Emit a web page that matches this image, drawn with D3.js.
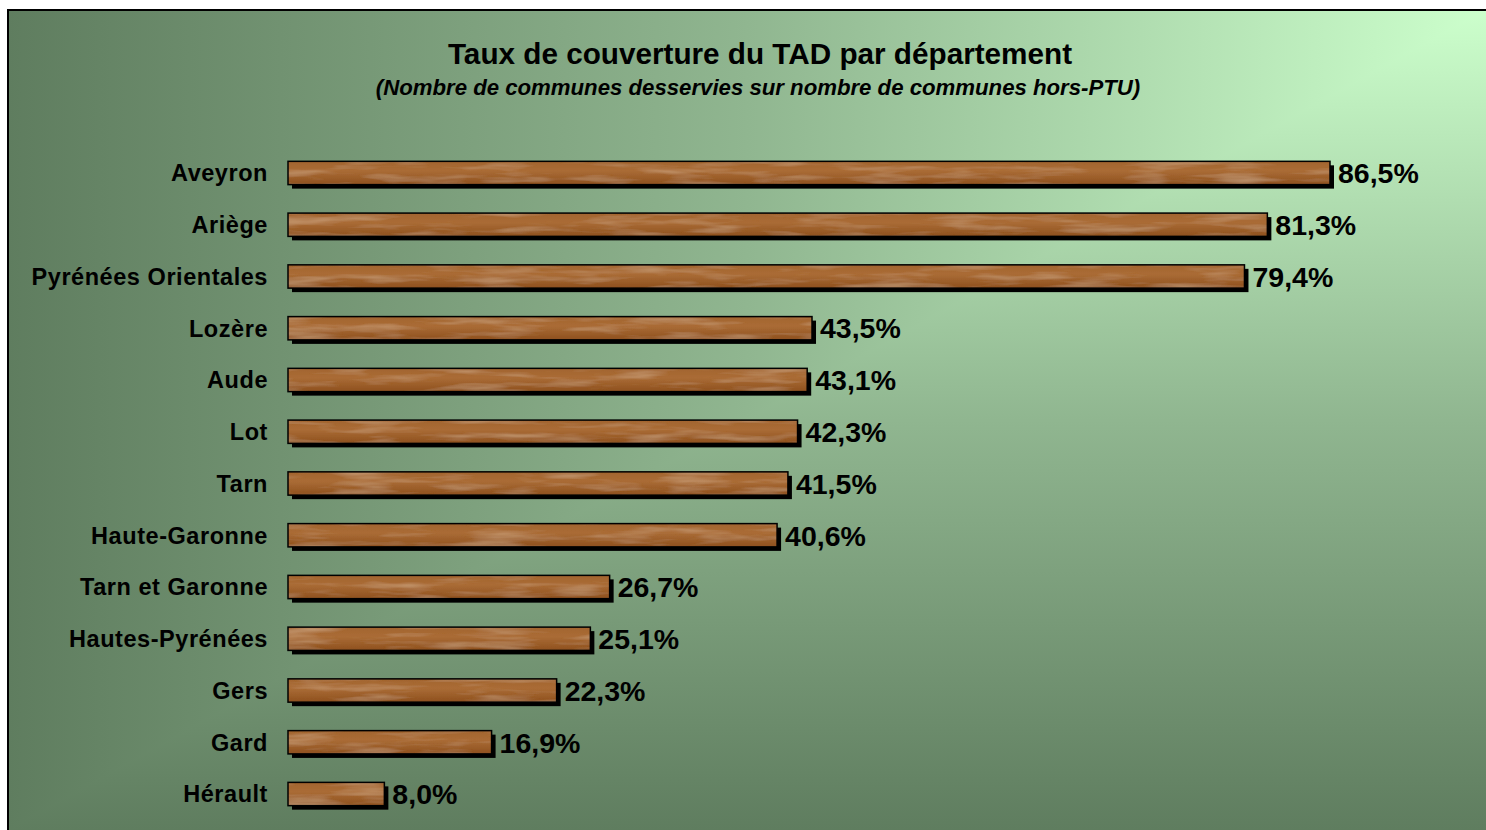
<!DOCTYPE html>
<html>
<head>
<meta charset="utf-8">
<script src="https://cdn.jsdelivr.net/npm/d3@7"></script>
<style>
  html, body { margin: 0; padding: 0; background: #fff; }
  svg { display: block; }
  text { font-family: "Liberation Sans", Arial, sans-serif; font-weight: bold; fill: #000; }
</style>
</head>
<body>
<div id="chart"></div>
<script>
// departements, from top to bottom
const departements = ["Aveyron", "Ariège", "Pyrénées Orientales", "Lozère", "Aude", "Lot", "Tarn",
  "Haute-Garonne", "Tarn et Garonne", "Hautes-Pyrénées", "Gers", "Gard", "Hérault"]
// taux de couverture en %
const taux = [86.5, 81.3, 79.4, 43.5, 43.1, 42.3, 41.5, 40.6, 26.7, 25.1, 22.3, 16.9, 8.0]

const titre = "Taux de couverture du TAD par département"
const sousTitre = "(Nombre de communes desservies sur nombre de communes hors-PTU)"

const width = 1486
const height = 830
const frame = { x: 8, y: 10 }

const svg = d3.select("#chart").append("svg")
  .attr("width", width)
  .attr("height", height)

const defs = svg.append("defs")

// "from corner" shading: vertical gradient everywhere, horizontal one above the diagonal
// both use the same stops so they meet without a seam on the diagonal
const bgStops = [[0, "#5f7d5f"], [0.5, "#90b690"], [1, "#ccffcc"]]
const gH = defs.append("linearGradient").attr("id", "bgH")
  .attr("gradientUnits", "userSpaceOnUse")
  .attr("x1", frame.x).attr("y1", 0).attr("x2", width).attr("y2", 0)
const gV = defs.append("linearGradient").attr("id", "bgV")
  .attr("gradientUnits", "userSpaceOnUse")
  .attr("x1", 0).attr("y1", height).attr("x2", 0).attr("y2", frame.y)
bgStops.forEach(s => {
  gH.append("stop").attr("offset", s[0]).attr("stop-color", s[1])
  gV.append("stop").attr("offset", s[0]).attr("stop-color", s[1])
})

// wood texture for the bars
const wood = defs.append("filter").attr("id", "wood")
  .attr("x", 0).attr("y", 0).attr("width", 1).attr("height", 1)
wood.append("feTurbulence")
  .attr("type", "fractalNoise")
  .attr("baseFrequency", "0.015 0.12")
  .attr("numOctaves", 3)
  .attr("seed", 11)
  .attr("result", "noise")
wood.append("feColorMatrix")
  .attr("in", "noise")
  .attr("type", "matrix")
  .attr("values", "0 0 0 0 0.74  0 0 0 0 0.51  0 0 0 0 0.30  0.9 0 0 0 -0.42")
  .attr("result", "streak")
wood.append("feComposite")
  .attr("in", "streak").attr("in2", "SourceGraphic")
  .attr("operator", "in").attr("result", "clipped")
const merge = wood.append("feMerge")
merge.append("feMergeNode").attr("in", "SourceGraphic")
merge.append("feMergeNode").attr("in", "clipped")

const barGrad = defs.append("linearGradient").attr("id", "barGrad")
  .attr("x1", 0).attr("y1", 0).attr("x2", 0).attr("y2", 1)
barGrad.append("stop").attr("offset", 0).attr("stop-color", "#a2642e")
barGrad.append("stop").attr("offset", 0.4).attr("stop-color", "#aa6c36")
barGrad.append("stop").attr("offset", 1).attr("stop-color", "#8e501e")

// background
svg.append("rect")
  .attr("x", frame.x).attr("y", frame.y)
  .attr("width", width - frame.x).attr("height", height - frame.y)
  .attr("fill", "url(#bgV)")
svg.append("polygon")
  .attr("points", [[frame.x, frame.y], [width, frame.y], [frame.x, height]].join(" "))
  .attr("fill", "url(#bgH)")
svg.append("rect")
  .attr("x", frame.x).attr("y", frame.y)
  .attr("width", width + 10).attr("height", height + 10)
  .attr("fill", "none")
  .attr("stroke", "#000")
  .attr("stroke-width", 2)

// titles
svg.append("text")
  .attr("x", 760).attr("y", 64)
  .attr("text-anchor", "middle")
  .attr("font-size", 29.7)
  .text(titre)
svg.append("text")
  .attr("x", 758).attr("y", 95)
  .attr("text-anchor", "middle")
  .attr("font-size", 22.2)
  .attr("font-style", "italic")
  .text(sousTitre)

// scales
const x = d3.scaleLinear().domain([0, 86.5]).range([288, 1330])
const y = d3.scaleBand()
  .domain(departements)
  .range([147.1, 819.9])
  .paddingInner(0.55)
  .paddingOuter(0.275)

const data = departements.map((d, i) => ({ dep: d, val: taux[i] }))

const rows = svg.append("g").selectAll("g")
  .data(data)
  .enter()
  .append("g")

// shadow
rows.append("rect")
  .attr("x", d => x(0) + 4)
  .attr("y", d => y(d.dep) + 4)
  .attr("width", d => x(d.val) - x(0))
  .attr("height", y.bandwidth())
  .attr("fill", "#000")

// wood bar
rows.append("rect")
  .attr("x", d => x(0))
  .attr("y", d => y(d.dep))
  .attr("width", d => x(d.val) - x(0))
  .attr("height", y.bandwidth())
  .attr("fill", "url(#barGrad)")
  .attr("filter", "url(#wood)")

// outline
rows.append("rect")
  .attr("x", d => x(0))
  .attr("y", d => y(d.dep))
  .attr("width", d => x(d.val) - x(0))
  .attr("height", y.bandwidth())
  .attr("fill", "none")
  .attr("stroke", "#000")
  .attr("stroke-width", 1.5)

// category labels
rows.append("text")
  .attr("x", 268)
  .attr("y", d => y(d.dep) + y.bandwidth() / 2)
  .attr("dy", "0.36em")
  .attr("text-anchor", "end")
  .attr("font-size", 23.5)
  .attr("letter-spacing", 0.55)
  .text(d => d.dep)

// value labels
rows.append("text")
  .attr("x", d => x(d.val) + 8)
  .attr("y", d => y(d.dep) + y.bandwidth() / 2)
  .attr("dy", "0.36em")
  .attr("font-size", 28.5)
  .text(d => d3.format(".1f")(d.val).replace(".", ",") + "%")
</script>
</body>
</html>
